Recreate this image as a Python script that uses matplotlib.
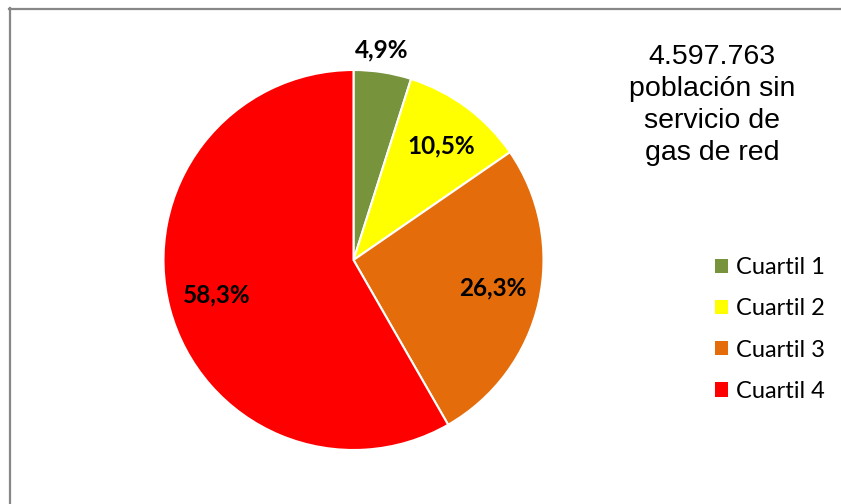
import matplotlib.pyplot as plt
from matplotlib.patches import Patch
from matplotlib.lines import Line2D

# cuartiles de la población sin servicio de gas de red
cuartiles = ['Cuartil 1', 'Cuartil 2', 'Cuartil 3', 'Cuartil 4']
porcentajes = [4.9, 10.5, 26.3, 58.3]
colores = ['#77933C', '#FFFF00', '#E46C0A', '#FF0000']
titulo = '4.597.763\npoblación sin\nservicio de\ngas de red'

W, H = 841, 504
fig = plt.figure(figsize=(W / 100, H / 100), dpi=100)

# marco gris (solo se ven los bordes superior e izquierdo)
fig.add_artist(Line2D([9.5 / W, 9.5 / W], [0, 1 - 8 / H], color='#878787', lw=1.6))
fig.add_artist(Line2D([9 / W, 1], [1 - 8.5 / H, 1 - 8.5 / H], color='#878787', lw=1.6))

cx, cy, r = 353.5, 260, 190
ax = fig.add_axes([(cx - r) / W, 1 - (cy + r) / H, 2 * r / W, 2 * r / H])

wedges, textos, pcts = ax.pie(
    porcentajes, colors=colores, startangle=90, counterclock=False,
    autopct=lambda p: f'{p:.1f}%'.replace('.', ','), pctdistance=0.72,
    wedgeprops=dict(edgecolor='white', linewidth=1.5),
    textprops=dict(fontfamily='Lato', fontweight='bold', fontsize=17.5, color='black'))
ax.set_xlim(-1, 1)
ax.set_ylim(-1, 1)
ax.set_aspect('equal')

# posiciones de las etiquetas (la del primer cuartil queda fuera de la torta)
posiciones = [(0.15, 1.105), (0.463, 0.60), (0.733, -0.147), (-0.718, -0.184)]
for t, pos in zip(pcts, posiciones):
    t.set_position(pos)

fig.text(712 / W, 1 - 44 / H, titulo, ha='center', va='top', fontsize=20.5,
         fontfamily='Liberation Sans', linespacing=1.3)

handles = [Patch(facecolor=c, edgecolor='none') for c in colores]
fig.legend(handles, cuartiles, loc='upper left', bbox_to_anchor=(715 / W, 1 - 257 / H),
           frameon=False, prop=dict(family='Lato', size=17),
           handlelength=0.55, handleheight=0.55, handletextpad=0.36, labelspacing=0.86,
           borderpad=0, borderaxespad=0)

fig.savefig('out.png', dpi=100)
